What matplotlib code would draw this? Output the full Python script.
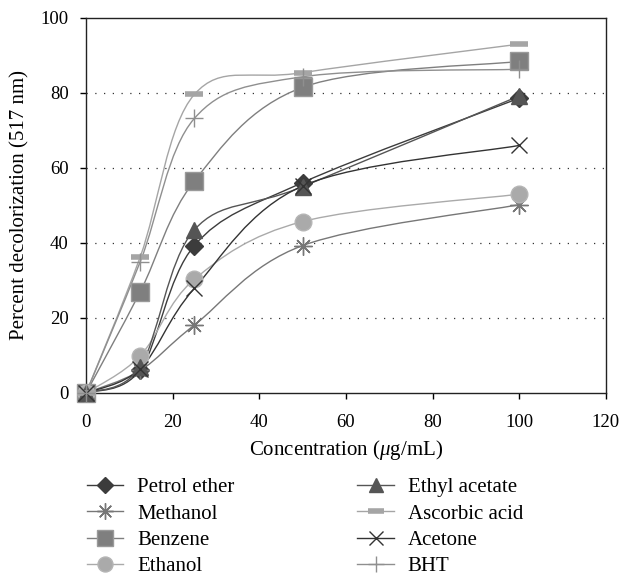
import numpy as np
import matplotlib
matplotlib.use("Agg")
import matplotlib.pyplot as plt
from matplotlib.path import Path
from matplotlib.patches import PathPatch
from matplotlib.lines import Line2D

plt.rcParams['font.family'] = ['Liberation Serif', 'DejaVu Serif']
plt.rcParams['mathtext.fontset'] = 'custom'
plt.rcParams['mathtext.it'] = 'Liberation Serif:italic'
plt.rcParams['mathtext.rm'] = 'Liberation Serif'

conc = [0, 12.5, 25, 50, 100]

petrol_ether = [0, 6.2, 39.3, 56.1, 78.6]
methanol = [0, 6.0, 18.1, 39.3, 50.2]
benzene = [0, 27.0, 56.5, 81.5, 88.4]
ethanol = [0, 9.9, 30.3, 45.7, 53.0]
ethyl_acetate = [0, 7.0, 43.5, 55.0, 79.2]
ascorbic_acid = [0, 36.3, 79.6, 85.4, 93.0]
acetone = [0, 6.5, 27.9, 55.2, 66.0]
bht = [0, 35.0, 73.2, 84.3, 86.3]

series = [
    ("Petrol ether", petrol_ether, dict(marker='D', color='#3c3c3c', ms=9, mec='#3c3c3c')),
    ("Methanol", methanol, dict(marker=(8, 2, 0), color='#777777', ms=13, mew=1.0)),
    ("Benzene", benzene, dict(marker='s', color='#7f7f7f', ms=12.5, mec='#9a9a9a')),
    ("Ethanol", ethanol, dict(marker='o', color='#aaaaaa', ms=12, mec='#b5b5b5')),
    ("Ethyl acetate", ethyl_acetate, dict(marker='^', color='#555555', ms=11, mec='#555555')),
    ("Ascorbic acid", ascorbic_acid, dict(marker='_', color='#a5a5a5', ms=13, mew=4)),
    ("Acetone", acetone, dict(marker='x', color='#333333', ms=11, mew=1.0)),
    ("BHT", bht, dict(marker='+', color='#8f8f8f', ms=13, mew=1.0)),
]


def smooth_path(xs, ys):
    # Excel-style smoothed line: cubic bezier through the points
    pts = np.column_stack([xs, ys]).astype(float)
    n = len(pts)
    verts = [pts[0]]
    codes = [Path.MOVETO]
    for i in range(n - 1):
        p0 = pts[i - 1] if i > 0 else pts[i]
        p1 = pts[i]
        p2 = pts[i + 1]
        p3 = pts[i + 2] if i + 2 < n else pts[i + 1]
        c1 = p1 + (p2 - p0) / 6.0
        c2 = p2 - (p3 - p1) / 6.0
        verts += [c1, c2, p2]
        codes += [Path.CURVE4] * 3
    return Path(verts, codes)


fig = plt.figure(figsize=(6.24, 5.77), dpi=100)
ax = fig.add_axes([0.138, 0.319, 0.833, 0.650])

handles = []
for name, vals, st in series:
    ax.add_patch(PathPatch(smooth_path(conc, vals), fill=False,
                           edgecolor=st['color'], lw=1.0, zorder=2))
    ax.plot(conc, vals, linestyle='none', marker=st['marker'], color=st['color'],
            ms=st['ms'], mec=st.get('mec', st['color']), mew=st.get('mew', 1.0),
            zorder=3, clip_on=False)
    handles.append(Line2D([], [], color=st['color'], lw=1.0, marker=st['marker'],
                          ms=st['ms'], mec=st.get('mec', st['color']), mew=st.get('mew', 1.0),
                          label=name))

ax.set_xlim(0, 120)
ax.set_ylim(0, 100)
ax.set_xticks(range(0, 121, 20))
ax.set_yticks(range(0, 101, 20))
for yv in [20, 40, 60, 80]:
    ax.axhline(yv, color='#333333', lw=0.9, linestyle=(0, (1, 6)), zorder=1)
ax.tick_params(direction='out', length=4.5, width=1.0, labelsize=13.5)
ax.tick_params(axis='x', pad=11)
ax.tick_params(axis='y', pad=8)
for sp in ax.spines.values():
    sp.set_linewidth(1.0)
    sp.set_color('#222222')

ax.set_xlabel(r"Concentration ($\mu$g/mL)", fontsize=15, labelpad=5)
ax.set_ylabel("Percent decolorization (517 nm)", fontsize=15, labelpad=8)

fig.legend(handles=handles, loc='upper left', bbox_to_anchor=(0.139, 0.172),
           ncol=2, frameon=False, fontsize=15, handlelength=1.75, columnspacing=5.9,
           labelspacing=0.32, handletextpad=0.67, borderaxespad=0, borderpad=0,
           markerscale=0.9)

fig.savefig("out.png", dpi=100)
